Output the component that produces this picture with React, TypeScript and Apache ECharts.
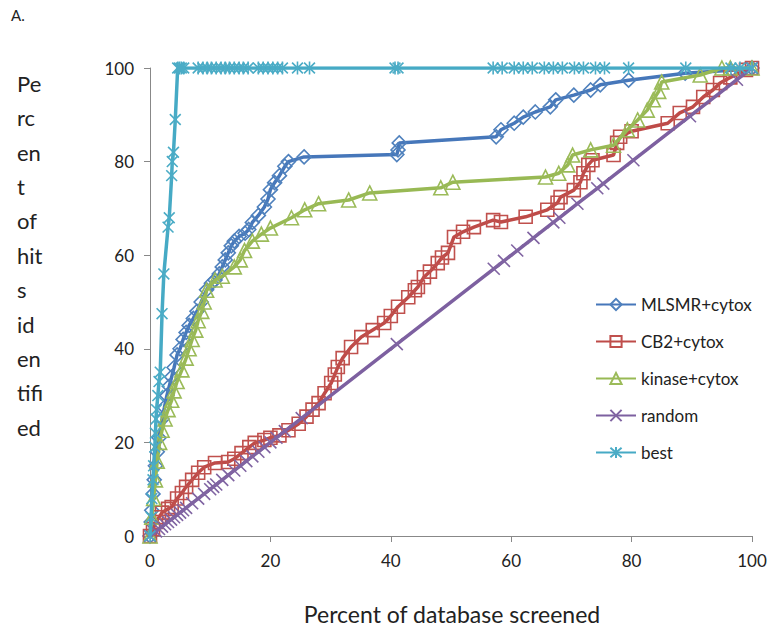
import React, { useEffect, useRef } from "react";
import * as echarts from "echarts";

const seriesNames = ["MLSMR+cytox", "CB2+cytox", "kinase+cytox", "random", "best"];
const xTickValues = [0, 20, 40, 60, 80, 100];
const yTitleLines = ["Pe", "rc", "en", "t", "of", "hit", "s", "id", "en", "tifi", "ed"];
const xTitle = "Percent of database screened";
const panelLabel = "A.";

const mlsmr = [
  [0, 0], [0.2, 3], [0.3, 5.5], [0.5, 9], [0.7, 12], [0.9, 15], [1.2, 18], [1.5, 21], [2, 25], [2.4, 27.5],
  [2.8, 30], [3.2, 32], [3.6, 34], [4, 36], [4.5, 38.7], [5, 40], [5.5, 42], [6, 43.5], [6.5, 45], [7.2, 46.5],
  [7.8, 48], [8.5, 50], [9.4, 52.6], [10.2, 54], [10.8, 54.7], [11.5, 56], [12, 57.5], [12.5, 59], [13, 60.5],
  [13.5, 62], [14, 63], [14.8, 64], [15.8, 64.7], [16.4, 65.5], [17, 67], [18, 68.5], [19, 70.3], [19.6, 72],
  [20, 74], [20.7, 75.5], [21.5, 77], [22.4, 79], [23, 80], [25.6, 81], [41, 81.5], [41.2, 82.5], [41.4, 84],
  [57.5, 85.3], [58.3, 86.8], [60.5, 88.2], [62, 89.5], [64, 90.6], [66.5, 91.7], [67.4, 93.2], [70.4, 94.2],
  [73.2, 95.3], [74.8, 96.4], [79.5, 97.4], [88.9, 98.9], [96.5, 99.5], [100, 100],
];

const cb2 = [
  [0, 0], [0.5, 1.5], [1, 3], [1.5, 4], [2, 5], [3, 5.8], [3.6, 6.2], [4.5, 8], [5.3, 9.2], [6, 10.5], [7, 12],
  [8, 13.5], [9, 14.7], [10.8, 15.6], [13, 15.8], [14, 16.5], [15.2, 17.7], [16.5, 19], [17.4, 19.9], [19, 20.5],
  [20, 21], [21.5, 21.5], [23, 22.6], [24.7, 24], [26, 25.5], [27, 27], [28, 28.4], [29, 30.5], [30.1, 32.7],
  [30.7, 34.5], [31.2, 36.1], [32, 38], [33.4, 40.4], [35.1, 42.5], [37, 44], [38.9, 45.5], [40, 47], [41.2, 49],
  [42.9, 51], [44, 52.5], [44.5, 53.2], [45.5, 55.3], [46.5, 56.5], [47.8, 58.3], [48.5, 59.5], [49.5, 60.5],
  [50.5, 63.9], [52, 65], [53.8, 66], [57, 67.5], [58.3, 67.1], [62.4, 68.2], [66, 69.7], [67.7, 71.2],
  [68.2, 72.4], [70.4, 73.9], [71.5, 75.6], [72, 77.5], [72.8, 79.3], [73.5, 80.3], [77, 81.4], [77.6, 84],
  [78.1, 85.3], [80, 86.5], [86, 88.2], [88, 90.4], [90.2, 91.7], [91.9, 93.8], [93.5, 95.3], [94.7, 96.8],
  [96.4, 98], [99, 99.6], [100, 100],
];

const kinase = [
  [0, 0], [0.3, 4], [0.6, 8], [0.9, 12], [1.2, 16], [1.6, 20], [2, 22.6], [2.5, 25], [3, 27], [3.6, 29], [4, 31],
  [4.5, 33], [5.3, 35.5], [6, 38], [6.5, 40], [7, 42], [7.6, 44], [8, 46], [8.6, 48], [9, 50], [9.4, 52.5],
  [10.8, 54.7], [12, 55.5], [14, 57.5], [15, 59], [15.7, 61], [17, 63], [18.5, 64.5], [20, 65.8], [23.5, 68],
  [25.7, 69.7], [28, 71], [33, 71.8], [36.5, 73.3], [48.3, 74.4], [50.3, 75.6], [65.7, 76.7], [67.9, 77.5],
  [69.4, 79.3], [70.2, 81.4], [73.2, 82.5], [77, 83.5], [79.3, 86.8], [81, 88.9], [82.6, 91], [83.6, 93.2],
  [84.5, 95], [85, 97], [91.4, 98.5], [95, 100], [96.4, 100], [100, 100],
];

const random = [
  [0, 0], [1, 1], [1.5, 1.5], [2, 2], [2.5, 2.5], [3, 3], [3.5, 3.5], [4, 4], [4.5, 4.5], [5, 5], [5.5, 5.5],
  [6, 6], [7, 7], [8, 8], [9, 9], [10, 10], [10.5, 10.5], [11, 11], [12, 12], [13, 13], [14, 14], [15, 15],
  [16, 16], [17, 17], [18, 18], [19, 19], [20, 20], [21, 21], [22.4, 22.4], [25.2, 25.2], [41, 41], [57.1, 57.1],
  [58.8, 58.8], [61, 61], [63.7, 63.7], [67, 67], [68, 68], [71, 71], [74.3, 74.3], [75.3, 75.3], [80.3, 80.3],
  [89.7, 89.7], [97.5, 97.5], [100, 100],
];

const best = [
  [0, 0], [0.2, 4], [0.3, 8], [0.5, 12], [0.6, 15], [0.8, 19], [0.9, 22], [1, 25], [1.1, 27], [1.3, 30],
  [1.5, 33], [1.7, 35], [2, 47.5], [2.3, 56], [3, 66], [3.2, 68], [3.6, 77], [3.7, 80], [3.9, 82], [4.2, 89],
  [4.6, 100], [4.9, 100], [5.2, 100], [5.6, 100], [8, 100], [8.8, 100], [9.5, 100], [10.2, 100], [11, 100],
  [11.8, 100], [12.5, 100], [13.2, 100], [14, 100], [14.8, 100], [15.5, 100], [16.3, 100], [18, 100],
  [18.8, 100], [19.6, 100], [20.4, 100], [21.2, 100], [22, 100], [24.5, 100], [26.5, 100], [40.7, 100],
  [41.2, 100], [57, 100], [58.5, 100], [60.5, 100], [62, 100], [63.5, 100], [65.5, 100], [67, 100], [68.5, 100],
  [70.5, 100], [72, 100], [74, 100], [75.5, 100], [79.5, 100], [89, 100], [96.5, 100], [98, 100], [100, 100],
];

const X_PATH = "path://M0,0L10,10M10,0L0,10";
const STAR_PATH = "path://M0,0L10,10M10,0L0,10M5,-1L5,11";

export default function App() {
  const ref = useRef<HTMLDivElement>(null);
  useEffect(() => {
    const chart = echarts.init(ref.current!, null, { renderer: "svg" });
    const font = "Lato, 'Open Sans', sans-serif";
    const mk = (name: string, data: number[][], lineColor: string, markColor: string, symbol: string, size: number, z: number) => ({
      name,
      type: "line",
      data,
      symbol,
      symbolSize: size,
      showAllSymbol: true,
      symbolKeepAspect: true,
      z,
      lineStyle: { color: lineColor, width: 3.5 },
      itemStyle: { color: "rgba(255,255,255,0)", borderColor: markColor, borderWidth: 1.6 },
      emphasis: { disabled: true },
    });
    chart.setOption({
      animation: false,
      backgroundColor: "#ffffff",
      grid: { left: 150, right: 21, top: 68, bottom: 101, containLabel: false },
      xAxis: {
        type: "value",
        min: 0,
        max: 100,
        interval: 20,
        axisLine: { show: true, lineStyle: { color: "#888888", width: 1 } },
        axisTick: { show: true, inside: false, length: 6, lineStyle: { color: "#888888" } },
        splitLine: { show: false },
        axisLabel: {
          margin: 16,
          color: "#222222",
          fontSize: 17,
          fontFamily: font,
          formatter: (v: number) => (xTickValues.includes(v) ? String(v) : ""),
        },
      },
      yAxis: {
        type: "value",
        min: 0,
        max: 100,
        interval: 20,
        axisLine: { show: true, lineStyle: { color: "#888888", width: 1 } },
        axisTick: { show: true, inside: false, length: 6, lineStyle: { color: "#888888" } },
        splitLine: { show: false },
        axisLabel: { margin: 16, color: "#222222", fontSize: 17, fontFamily: font },
      },
      legend: {
        orient: "vertical",
        left: 590,
        top: 291,
        itemWidth: 40,
        itemHeight: 14,
        itemGap: 20,
        data: seriesNames,
        textStyle: { fontSize: 17, fontFamily: font, color: "#222222", lineHeight: 14 },
      },
      graphic: [
        { type: "text", left: 11, top: 7, style: { text: panelLabel, fontSize: 15, fontFamily: font, fill: "#222222" } },
        {
          type: "text",
          left: 17,
          top: 66,
          style: { text: yTitleLines.join("\n"), fontSize: 22, lineHeight: 34.4, fontFamily: font, fill: "#222222" },
        },
        {
          type: "text",
          x: 452,
          y: 614,
          style: { text: xTitle, fontSize: 23, fontFamily: font, fill: "#222222", align: "center", verticalAlign: "middle" },
        },
      ],
      series: [
        mk(seriesNames[0], mlsmr, "#4677BA", "#4F81BD", "diamond", 14, 2),
        mk(seriesNames[1], cb2, "#BE4B48", "#C0504D", "rect", 13, 3),
        mk(seriesNames[2], kinase, "#98B954", "#9BBB59", "triangle", 14, 4),
        mk(seriesNames[3], random, "#7D60A0", "#8064A2", X_PATH, 12, 5),
        mk(seriesNames[4], best, "#46AAC5", "#4BACC6", STAR_PATH, 13, 6),
      ],
    });
    return () => chart.dispose();
  }, []);
  return <div ref={ref} style={{ position: "fixed", left: 0, top: 0, width: 773, height: 637 }} />;
}
